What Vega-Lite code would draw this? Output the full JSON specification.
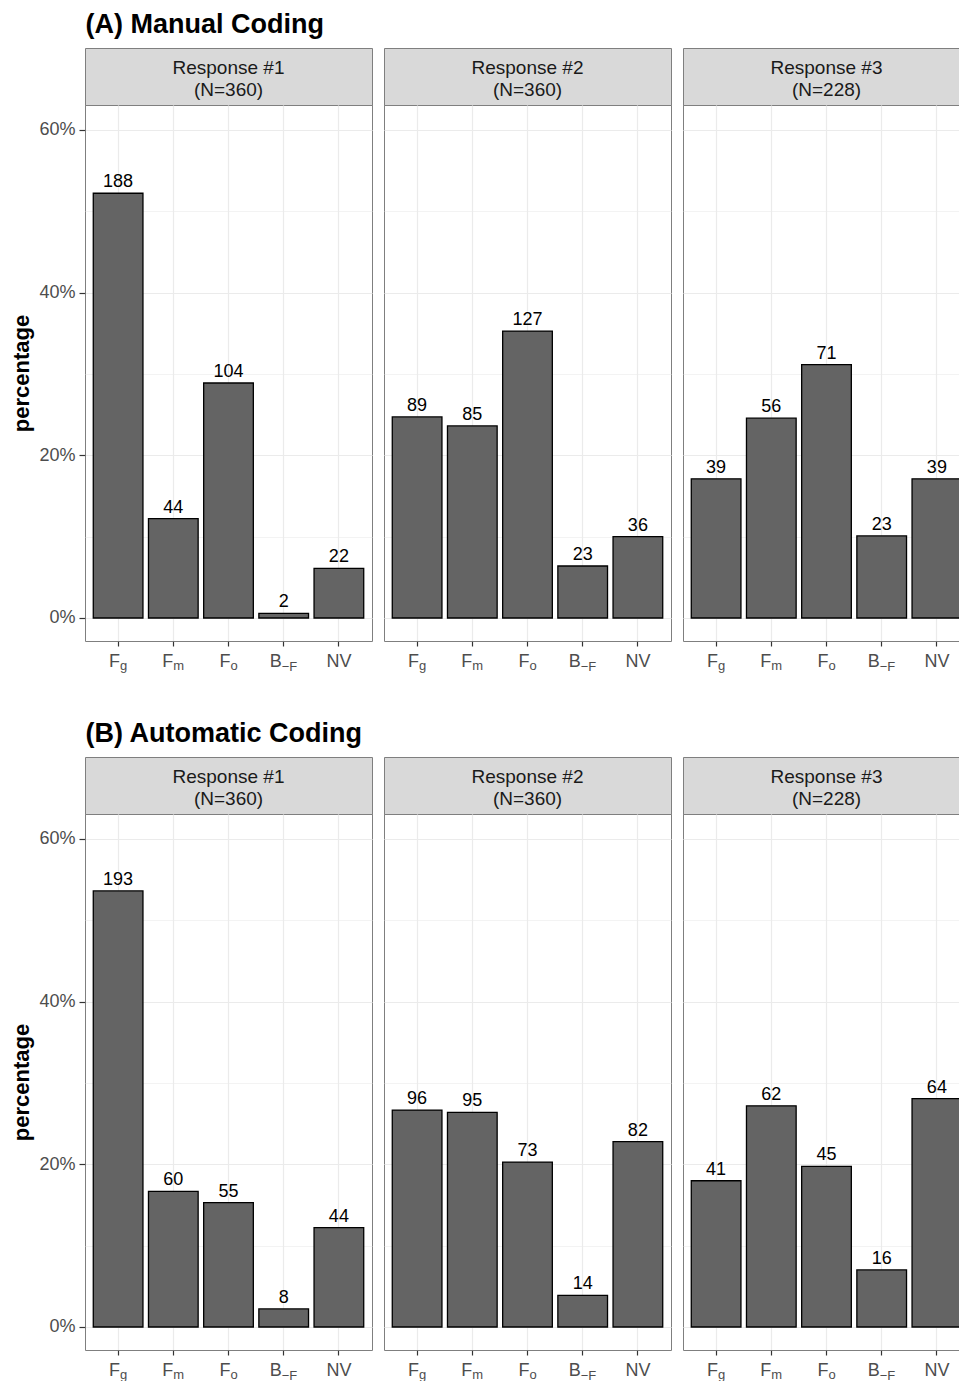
{
  "$schema": "https://vega.github.io/schema/vega-lite/v6.json",
  "padding": {"left": 10, "top": 10, "right": 0, "bottom": 0},
  "background": "white",
  "datasets": {
    "bars": [
      {"section": "A", "resp": 1, "cat": "Fg", "n": 188, "pct": 0.5222},
      {"section": "A", "resp": 1, "cat": "Fm", "n": 44, "pct": 0.1222},
      {"section": "A", "resp": 1, "cat": "Fo", "n": 104, "pct": 0.2889},
      {"section": "A", "resp": 1, "cat": "BF", "n": 2, "pct": 0.0056},
      {"section": "A", "resp": 1, "cat": "NV", "n": 22, "pct": 0.0611},
      {"section": "A", "resp": 2, "cat": "Fg", "n": 89, "pct": 0.2472},
      {"section": "A", "resp": 2, "cat": "Fm", "n": 85, "pct": 0.2361},
      {"section": "A", "resp": 2, "cat": "Fo", "n": 127, "pct": 0.3528},
      {"section": "A", "resp": 2, "cat": "BF", "n": 23, "pct": 0.0639},
      {"section": "A", "resp": 2, "cat": "NV", "n": 36, "pct": 0.1},
      {"section": "A", "resp": 3, "cat": "Fg", "n": 39, "pct": 0.1711},
      {"section": "A", "resp": 3, "cat": "Fm", "n": 56, "pct": 0.2456},
      {"section": "A", "resp": 3, "cat": "Fo", "n": 71, "pct": 0.3114},
      {"section": "A", "resp": 3, "cat": "BF", "n": 23, "pct": 0.1009},
      {"section": "A", "resp": 3, "cat": "NV", "n": 39, "pct": 0.1711},
      {"section": "B", "resp": 1, "cat": "Fg", "n": 193, "pct": 0.5361},
      {"section": "B", "resp": 1, "cat": "Fm", "n": 60, "pct": 0.1667},
      {"section": "B", "resp": 1, "cat": "Fo", "n": 55, "pct": 0.1528},
      {"section": "B", "resp": 1, "cat": "BF", "n": 8, "pct": 0.0222},
      {"section": "B", "resp": 1, "cat": "NV", "n": 44, "pct": 0.1222},
      {"section": "B", "resp": 2, "cat": "Fg", "n": 96, "pct": 0.2667},
      {"section": "B", "resp": 2, "cat": "Fm", "n": 95, "pct": 0.2639},
      {"section": "B", "resp": 2, "cat": "Fo", "n": 73, "pct": 0.2028},
      {"section": "B", "resp": 2, "cat": "BF", "n": 14, "pct": 0.0389},
      {"section": "B", "resp": 2, "cat": "NV", "n": 82, "pct": 0.2278},
      {"section": "B", "resp": 3, "cat": "Fg", "n": 41, "pct": 0.1798},
      {"section": "B", "resp": 3, "cat": "Fm", "n": 62, "pct": 0.2719},
      {"section": "B", "resp": 3, "cat": "Fo", "n": 45, "pct": 0.1974},
      {"section": "B", "resp": 3, "cat": "BF", "n": 16, "pct": 0.0702},
      {"section": "B", "resp": 3, "cat": "NV", "n": 64, "pct": 0.2807}
    ],
    "strips": [
      {"section": "A", "resp": 1, "label": "Response #1\n(N=360)"},
      {"section": "A", "resp": 2, "label": "Response #2\n(N=360)"},
      {"section": "A", "resp": 3, "label": "Response #3\n(N=228)"},
      {"section": "B", "resp": 1, "label": "Response #1\n(N=360)"},
      {"section": "B", "resp": 2, "label": "Response #2\n(N=360)"},
      {"section": "B", "resp": 3, "label": "Response #3\n(N=228)"}
    ]
  },
  "spacing": 45,
  "vconcat": [
    {
      "title": {"text": "(A) Manual Coding", "anchor": "start", "fontSize": 27, "fontWeight": "bold", "color": "black", "font": "Liberation Sans", "dx": 75, "offset": 9},
      "spacing": 10,
      "hconcat": [
        {
          "bounds": "flush", "spacing": 0,
          "vconcat": [
            {"width": 287, "height": 57, "data": {"name": "strips"}, "transform": [{"filter": "datum.section=='A' && datum.resp==1"}], "view": {"fill": "#d9d9d9", "stroke": "#7f7f7f"}, "mark": {"type": "text", "fontSize": 19, "color": "#1a1a1a", "lineBreak": "\n", "lineHeight": 22, "baseline": "middle", "align": "center", "dy": -9}, "encoding": {"text": {"field": "label"}}},
            {
              "width": 287, "height": 536, "data": {"name": "bars"}, "view": {"stroke": "#7f7f7f"},
              "transform": [{"filter": "datum.section=='A' && datum.resp==1"}],
              "encoding": {
                "x": {"field": "cat", "type": "nominal", "scale": {"domain": ["Fg", "Fm", "Fo", "BF", "NV"], "paddingInner": 0.1, "paddingOuter": 0.15}, "axis": {"orient": "bottom", "title": null, "labelExpr": "datum.value=='BF' ? 'B' : datum.value=='NV' ? 'NV' : 'F'", "labelFontSize": 18, "labelColor": "#4d4d4d", "labelAngle": 0, "labelBaseline": "alphabetic", "labelPadding": 20, "labelAlign": {"condition": {"test": "datum.value=='NV'", "value": "center"}, "value": "right"}, "labelOffset": {"condition": [{"test": "datum.value=='BF'", "value": -2}, {"test": "datum.value=='Fm'", "value": 0}, {"test": "datum.value=='NV'", "value": 0}], "value": 2}, "labelOverlap": false, "labelBound": false, "tickSize": 5, "tickColor": "#333333", "tickWidth": 1.2, "grid": true, "gridColor": "#ebebeb", "gridWidth": 1.2, "domain": false}},
                "y": {"field": "pct", "type": "quantitative", "scale": {"domain": [-0.0283, 0.6307], "nice": false}, "axis": {"values": [0, 0.1, 0.2, 0.3, 0.4, 0.5, 0.6], "title": "percentage", "titleFontSize": 22, "titleFontWeight": "bold", "titleColor": "black", "titlePadding": 5, "labelExpr": "round(datum.value*10)%2==1 ? '' : format(datum.value, '.0%')", "labelFontSize": 18, "labelColor": "#4d4d4d", "labelPadding": 4, "tickSize": 6, "tickColor": "#333333", "tickWidth": 1.2, "tickOpacity": {"condition": {"test": "round(datum.value*10)%2==1", "value": 0}, "value": 1}, "grid": true, "gridColor": "#ebebeb", "gridWidth": {"condition": {"test": "round(datum.value*10)%2==1", "value": 0.6}, "value": 1.2}, "domain": false}}
              },
              "layer": [
                {"mark": {"type": "bar", "fill": "#646464", "stroke": "black", "strokeWidth": 1.3}, "encoding": {"y2": {"datum": 0}}},
                {"mark": {"type": "text", "dy": -6, "fontSize": 18, "color": "black", "baseline": "alphabetic"}, "encoding": {"text": {"field": "n", "type": "quantitative"}, "x": {"field": "cat", "type": "nominal", "scale": {"domain": ["Fg", "Fm", "Fo", "BF", "NV"], "paddingInner": 0.1, "paddingOuter": 0.15}, "axis": {"orient": "bottom", "title": null, "labelExpr": "datum.value=='Fg' ? 'g' : datum.value=='Fm' ? 'm' : datum.value=='Fo' ? 'o' : datum.value=='BF' ? '−F' : ''", "labelFontSize": 13, "labelColor": "#4d4d4d", "labelAngle": 0, "labelBaseline": "alphabetic", "labelPadding": {"condition": {"test": "datum.value=='BF'", "value": 24}, "value": 23}, "labelAlign": "left", "labelOffset": {"condition": [{"test": "datum.value=='BF'", "value": -2}, {"test": "datum.value=='Fm'", "value": 0}, {"test": "datum.value=='NV'", "value": 0}], "value": 2}, "labelOverlap": false, "labelBound": false, "tickSize": 5, "tickOpacity": 0, "grid": false, "domain": false}}}}
              ],
              "resolve": {"axis": {"x": "independent"}}
            }
          ]
        },
        {
          "bounds": "flush", "spacing": 0,
          "vconcat": [
            {"width": 287, "height": 57, "data": {"name": "strips"}, "transform": [{"filter": "datum.section=='A' && datum.resp==2"}], "view": {"fill": "#d9d9d9", "stroke": "#7f7f7f"}, "mark": {"type": "text", "fontSize": 19, "color": "#1a1a1a", "lineBreak": "\n", "lineHeight": 22, "baseline": "middle", "align": "center", "dy": -9}, "encoding": {"text": {"field": "label"}}},
            {
              "width": 287, "height": 536, "data": {"name": "bars"}, "view": {"stroke": "#7f7f7f"},
              "transform": [{"filter": "datum.section=='A' && datum.resp==2"}],
              "encoding": {
                "x": {"field": "cat", "type": "nominal", "scale": {"domain": ["Fg", "Fm", "Fo", "BF", "NV"], "paddingInner": 0.1, "paddingOuter": 0.15}, "axis": {"orient": "bottom", "title": null, "labelExpr": "datum.value=='BF' ? 'B' : datum.value=='NV' ? 'NV' : 'F'", "labelFontSize": 18, "labelColor": "#4d4d4d", "labelAngle": 0, "labelBaseline": "alphabetic", "labelPadding": 20, "labelAlign": {"condition": {"test": "datum.value=='NV'", "value": "center"}, "value": "right"}, "labelOffset": {"condition": [{"test": "datum.value=='BF'", "value": -2}, {"test": "datum.value=='Fm'", "value": 0}, {"test": "datum.value=='NV'", "value": 0}], "value": 2}, "labelOverlap": false, "labelBound": false, "tickSize": 5, "tickColor": "#333333", "tickWidth": 1.2, "grid": true, "gridColor": "#ebebeb", "gridWidth": 1.2, "domain": false}},
                "y": {"field": "pct", "type": "quantitative", "scale": {"domain": [-0.0283, 0.6307], "nice": false}, "axis": {"values": [0, 0.1, 0.2, 0.3, 0.4, 0.5, 0.6], "title": null, "labels": false, "ticks": false, "grid": true, "gridColor": "#ebebeb", "gridWidth": {"condition": {"test": "round(datum.value*10)%2==1", "value": 0.6}, "value": 1.2}, "domain": false}}
              },
              "layer": [
                {"mark": {"type": "bar", "fill": "#646464", "stroke": "black", "strokeWidth": 1.3}, "encoding": {"y2": {"datum": 0}}},
                {"mark": {"type": "text", "dy": -6, "fontSize": 18, "color": "black", "baseline": "alphabetic"}, "encoding": {"text": {"field": "n", "type": "quantitative"}, "x": {"field": "cat", "type": "nominal", "scale": {"domain": ["Fg", "Fm", "Fo", "BF", "NV"], "paddingInner": 0.1, "paddingOuter": 0.15}, "axis": {"orient": "bottom", "title": null, "labelExpr": "datum.value=='Fg' ? 'g' : datum.value=='Fm' ? 'm' : datum.value=='Fo' ? 'o' : datum.value=='BF' ? '−F' : ''", "labelFontSize": 13, "labelColor": "#4d4d4d", "labelAngle": 0, "labelBaseline": "alphabetic", "labelPadding": {"condition": {"test": "datum.value=='BF'", "value": 24}, "value": 23}, "labelAlign": "left", "labelOffset": {"condition": [{"test": "datum.value=='BF'", "value": -2}, {"test": "datum.value=='Fm'", "value": 0}, {"test": "datum.value=='NV'", "value": 0}], "value": 2}, "labelOverlap": false, "labelBound": false, "tickSize": 5, "tickOpacity": 0, "grid": false, "domain": false}}}}
              ],
              "resolve": {"axis": {"x": "independent"}}
            }
          ]
        },
        {
          "bounds": "flush", "spacing": 0,
          "vconcat": [
            {"width": 287, "height": 57, "data": {"name": "strips"}, "transform": [{"filter": "datum.section=='A' && datum.resp==3"}], "view": {"fill": "#d9d9d9", "stroke": "#7f7f7f"}, "mark": {"type": "text", "fontSize": 19, "color": "#1a1a1a", "lineBreak": "\n", "lineHeight": 22, "baseline": "middle", "align": "center", "dy": -9}, "encoding": {"text": {"field": "label"}}},
            {
              "width": 287, "height": 536, "data": {"name": "bars"}, "view": {"stroke": "#7f7f7f"},
              "transform": [{"filter": "datum.section=='A' && datum.resp==3"}],
              "encoding": {
                "x": {"field": "cat", "type": "nominal", "scale": {"domain": ["Fg", "Fm", "Fo", "BF", "NV"], "paddingInner": 0.1, "paddingOuter": 0.15}, "axis": {"orient": "bottom", "title": null, "labelExpr": "datum.value=='BF' ? 'B' : datum.value=='NV' ? 'NV' : 'F'", "labelFontSize": 18, "labelColor": "#4d4d4d", "labelAngle": 0, "labelBaseline": "alphabetic", "labelPadding": 20, "labelAlign": {"condition": {"test": "datum.value=='NV'", "value": "center"}, "value": "right"}, "labelOffset": {"condition": [{"test": "datum.value=='BF'", "value": -2}, {"test": "datum.value=='Fm'", "value": 0}, {"test": "datum.value=='NV'", "value": 0}], "value": 2}, "labelOverlap": false, "labelBound": false, "tickSize": 5, "tickColor": "#333333", "tickWidth": 1.2, "grid": true, "gridColor": "#ebebeb", "gridWidth": 1.2, "domain": false}},
                "y": {"field": "pct", "type": "quantitative", "scale": {"domain": [-0.0283, 0.6307], "nice": false}, "axis": {"values": [0, 0.1, 0.2, 0.3, 0.4, 0.5, 0.6], "title": null, "labels": false, "ticks": false, "grid": true, "gridColor": "#ebebeb", "gridWidth": {"condition": {"test": "round(datum.value*10)%2==1", "value": 0.6}, "value": 1.2}, "domain": false}}
              },
              "layer": [
                {"mark": {"type": "bar", "fill": "#646464", "stroke": "black", "strokeWidth": 1.3}, "encoding": {"y2": {"datum": 0}}},
                {"mark": {"type": "text", "dy": -6, "fontSize": 18, "color": "black", "baseline": "alphabetic"}, "encoding": {"text": {"field": "n", "type": "quantitative"}, "x": {"field": "cat", "type": "nominal", "scale": {"domain": ["Fg", "Fm", "Fo", "BF", "NV"], "paddingInner": 0.1, "paddingOuter": 0.15}, "axis": {"orient": "bottom", "title": null, "labelExpr": "datum.value=='Fg' ? 'g' : datum.value=='Fm' ? 'm' : datum.value=='Fo' ? 'o' : datum.value=='BF' ? '−F' : ''", "labelFontSize": 13, "labelColor": "#4d4d4d", "labelAngle": 0, "labelBaseline": "alphabetic", "labelPadding": {"condition": {"test": "datum.value=='BF'", "value": 24}, "value": 23}, "labelAlign": "left", "labelOffset": {"condition": [{"test": "datum.value=='BF'", "value": -2}, {"test": "datum.value=='Fm'", "value": 0}, {"test": "datum.value=='NV'", "value": 0}], "value": 2}, "labelOverlap": false, "labelBound": false, "tickSize": 5, "tickOpacity": 0, "grid": false, "domain": false}}}}
              ],
              "resolve": {"axis": {"x": "independent"}}
            }
          ]
        }
      ]
    },
    {
      "title": {"text": "(B) Automatic Coding", "anchor": "start", "fontSize": 27, "fontWeight": "bold", "color": "black", "font": "Liberation Sans", "dx": 75, "offset": 9},
      "spacing": 10,
      "hconcat": [
        {
          "bounds": "flush", "spacing": 0,
          "vconcat": [
            {"width": 287, "height": 57, "data": {"name": "strips"}, "transform": [{"filter": "datum.section=='B' && datum.resp==1"}], "view": {"fill": "#d9d9d9", "stroke": "#7f7f7f"}, "mark": {"type": "text", "fontSize": 19, "color": "#1a1a1a", "lineBreak": "\n", "lineHeight": 22, "baseline": "middle", "align": "center", "dy": -9}, "encoding": {"text": {"field": "label"}}},
            {
              "width": 287, "height": 536, "data": {"name": "bars"}, "view": {"stroke": "#7f7f7f"},
              "transform": [{"filter": "datum.section=='B' && datum.resp==1"}],
              "encoding": {
                "x": {"field": "cat", "type": "nominal", "scale": {"domain": ["Fg", "Fm", "Fo", "BF", "NV"], "paddingInner": 0.1, "paddingOuter": 0.15}, "axis": {"orient": "bottom", "title": null, "labelExpr": "datum.value=='BF' ? 'B' : datum.value=='NV' ? 'NV' : 'F'", "labelFontSize": 18, "labelColor": "#4d4d4d", "labelAngle": 0, "labelBaseline": "alphabetic", "labelPadding": 20, "labelAlign": {"condition": {"test": "datum.value=='NV'", "value": "center"}, "value": "right"}, "labelOffset": {"condition": [{"test": "datum.value=='BF'", "value": -2}, {"test": "datum.value=='Fm'", "value": 0}, {"test": "datum.value=='NV'", "value": 0}], "value": 2}, "labelOverlap": false, "labelBound": false, "tickSize": 5, "tickColor": "#333333", "tickWidth": 1.2, "grid": true, "gridColor": "#ebebeb", "gridWidth": 1.2, "domain": false}},
                "y": {"field": "pct", "type": "quantitative", "scale": {"domain": [-0.0283, 0.6307], "nice": false}, "axis": {"values": [0, 0.1, 0.2, 0.3, 0.4, 0.5, 0.6], "title": "percentage", "titleFontSize": 22, "titleFontWeight": "bold", "titleColor": "black", "titlePadding": 5, "labelExpr": "round(datum.value*10)%2==1 ? '' : format(datum.value, '.0%')", "labelFontSize": 18, "labelColor": "#4d4d4d", "labelPadding": 4, "tickSize": 6, "tickColor": "#333333", "tickWidth": 1.2, "tickOpacity": {"condition": {"test": "round(datum.value*10)%2==1", "value": 0}, "value": 1}, "grid": true, "gridColor": "#ebebeb", "gridWidth": {"condition": {"test": "round(datum.value*10)%2==1", "value": 0.6}, "value": 1.2}, "domain": false}}
              },
              "layer": [
                {"mark": {"type": "bar", "fill": "#646464", "stroke": "black", "strokeWidth": 1.3}, "encoding": {"y2": {"datum": 0}}},
                {"mark": {"type": "text", "dy": -6, "fontSize": 18, "color": "black", "baseline": "alphabetic"}, "encoding": {"text": {"field": "n", "type": "quantitative"}, "x": {"field": "cat", "type": "nominal", "scale": {"domain": ["Fg", "Fm", "Fo", "BF", "NV"], "paddingInner": 0.1, "paddingOuter": 0.15}, "axis": {"orient": "bottom", "title": null, "labelExpr": "datum.value=='Fg' ? 'g' : datum.value=='Fm' ? 'm' : datum.value=='Fo' ? 'o' : datum.value=='BF' ? '−F' : ''", "labelFontSize": 13, "labelColor": "#4d4d4d", "labelAngle": 0, "labelBaseline": "alphabetic", "labelPadding": {"condition": {"test": "datum.value=='BF'", "value": 24}, "value": 23}, "labelAlign": "left", "labelOffset": {"condition": [{"test": "datum.value=='BF'", "value": -2}, {"test": "datum.value=='Fm'", "value": 0}, {"test": "datum.value=='NV'", "value": 0}], "value": 2}, "labelOverlap": false, "labelBound": false, "tickSize": 5, "tickOpacity": 0, "grid": false, "domain": false}}}}
              ],
              "resolve": {"axis": {"x": "independent"}}
            }
          ]
        },
        {
          "bounds": "flush", "spacing": 0,
          "vconcat": [
            {"width": 287, "height": 57, "data": {"name": "strips"}, "transform": [{"filter": "datum.section=='B' && datum.resp==2"}], "view": {"fill": "#d9d9d9", "stroke": "#7f7f7f"}, "mark": {"type": "text", "fontSize": 19, "color": "#1a1a1a", "lineBreak": "\n", "lineHeight": 22, "baseline": "middle", "align": "center", "dy": -9}, "encoding": {"text": {"field": "label"}}},
            {
              "width": 287, "height": 536, "data": {"name": "bars"}, "view": {"stroke": "#7f7f7f"},
              "transform": [{"filter": "datum.section=='B' && datum.resp==2"}],
              "encoding": {
                "x": {"field": "cat", "type": "nominal", "scale": {"domain": ["Fg", "Fm", "Fo", "BF", "NV"], "paddingInner": 0.1, "paddingOuter": 0.15}, "axis": {"orient": "bottom", "title": null, "labelExpr": "datum.value=='BF' ? 'B' : datum.value=='NV' ? 'NV' : 'F'", "labelFontSize": 18, "labelColor": "#4d4d4d", "labelAngle": 0, "labelBaseline": "alphabetic", "labelPadding": 20, "labelAlign": {"condition": {"test": "datum.value=='NV'", "value": "center"}, "value": "right"}, "labelOffset": {"condition": [{"test": "datum.value=='BF'", "value": -2}, {"test": "datum.value=='Fm'", "value": 0}, {"test": "datum.value=='NV'", "value": 0}], "value": 2}, "labelOverlap": false, "labelBound": false, "tickSize": 5, "tickColor": "#333333", "tickWidth": 1.2, "grid": true, "gridColor": "#ebebeb", "gridWidth": 1.2, "domain": false}},
                "y": {"field": "pct", "type": "quantitative", "scale": {"domain": [-0.0283, 0.6307], "nice": false}, "axis": {"values": [0, 0.1, 0.2, 0.3, 0.4, 0.5, 0.6], "title": null, "labels": false, "ticks": false, "grid": true, "gridColor": "#ebebeb", "gridWidth": {"condition": {"test": "round(datum.value*10)%2==1", "value": 0.6}, "value": 1.2}, "domain": false}}
              },
              "layer": [
                {"mark": {"type": "bar", "fill": "#646464", "stroke": "black", "strokeWidth": 1.3}, "encoding": {"y2": {"datum": 0}}},
                {"mark": {"type": "text", "dy": -6, "fontSize": 18, "color": "black", "baseline": "alphabetic"}, "encoding": {"text": {"field": "n", "type": "quantitative"}, "x": {"field": "cat", "type": "nominal", "scale": {"domain": ["Fg", "Fm", "Fo", "BF", "NV"], "paddingInner": 0.1, "paddingOuter": 0.15}, "axis": {"orient": "bottom", "title": null, "labelExpr": "datum.value=='Fg' ? 'g' : datum.value=='Fm' ? 'm' : datum.value=='Fo' ? 'o' : datum.value=='BF' ? '−F' : ''", "labelFontSize": 13, "labelColor": "#4d4d4d", "labelAngle": 0, "labelBaseline": "alphabetic", "labelPadding": {"condition": {"test": "datum.value=='BF'", "value": 24}, "value": 23}, "labelAlign": "left", "labelOffset": {"condition": [{"test": "datum.value=='BF'", "value": -2}, {"test": "datum.value=='Fm'", "value": 0}, {"test": "datum.value=='NV'", "value": 0}], "value": 2}, "labelOverlap": false, "labelBound": false, "tickSize": 5, "tickOpacity": 0, "grid": false, "domain": false}}}}
              ],
              "resolve": {"axis": {"x": "independent"}}
            }
          ]
        },
        {
          "bounds": "flush", "spacing": 0,
          "vconcat": [
            {"width": 287, "height": 57, "data": {"name": "strips"}, "transform": [{"filter": "datum.section=='B' && datum.resp==3"}], "view": {"fill": "#d9d9d9", "stroke": "#7f7f7f"}, "mark": {"type": "text", "fontSize": 19, "color": "#1a1a1a", "lineBreak": "\n", "lineHeight": 22, "baseline": "middle", "align": "center", "dy": -9}, "encoding": {"text": {"field": "label"}}},
            {
              "width": 287, "height": 536, "data": {"name": "bars"}, "view": {"stroke": "#7f7f7f"},
              "transform": [{"filter": "datum.section=='B' && datum.resp==3"}],
              "encoding": {
                "x": {"field": "cat", "type": "nominal", "scale": {"domain": ["Fg", "Fm", "Fo", "BF", "NV"], "paddingInner": 0.1, "paddingOuter": 0.15}, "axis": {"orient": "bottom", "title": null, "labelExpr": "datum.value=='BF' ? 'B' : datum.value=='NV' ? 'NV' : 'F'", "labelFontSize": 18, "labelColor": "#4d4d4d", "labelAngle": 0, "labelBaseline": "alphabetic", "labelPadding": 20, "labelAlign": {"condition": {"test": "datum.value=='NV'", "value": "center"}, "value": "right"}, "labelOffset": {"condition": [{"test": "datum.value=='BF'", "value": -2}, {"test": "datum.value=='Fm'", "value": 0}, {"test": "datum.value=='NV'", "value": 0}], "value": 2}, "labelOverlap": false, "labelBound": false, "tickSize": 5, "tickColor": "#333333", "tickWidth": 1.2, "grid": true, "gridColor": "#ebebeb", "gridWidth": 1.2, "domain": false}},
                "y": {"field": "pct", "type": "quantitative", "scale": {"domain": [-0.0283, 0.6307], "nice": false}, "axis": {"values": [0, 0.1, 0.2, 0.3, 0.4, 0.5, 0.6], "title": null, "labels": false, "ticks": false, "grid": true, "gridColor": "#ebebeb", "gridWidth": {"condition": {"test": "round(datum.value*10)%2==1", "value": 0.6}, "value": 1.2}, "domain": false}}
              },
              "layer": [
                {"mark": {"type": "bar", "fill": "#646464", "stroke": "black", "strokeWidth": 1.3}, "encoding": {"y2": {"datum": 0}}},
                {"mark": {"type": "text", "dy": -6, "fontSize": 18, "color": "black", "baseline": "alphabetic"}, "encoding": {"text": {"field": "n", "type": "quantitative"}, "x": {"field": "cat", "type": "nominal", "scale": {"domain": ["Fg", "Fm", "Fo", "BF", "NV"], "paddingInner": 0.1, "paddingOuter": 0.15}, "axis": {"orient": "bottom", "title": null, "labelExpr": "datum.value=='Fg' ? 'g' : datum.value=='Fm' ? 'm' : datum.value=='Fo' ? 'o' : datum.value=='BF' ? '−F' : ''", "labelFontSize": 13, "labelColor": "#4d4d4d", "labelAngle": 0, "labelBaseline": "alphabetic", "labelPadding": {"condition": {"test": "datum.value=='BF'", "value": 24}, "value": 23}, "labelAlign": "left", "labelOffset": {"condition": [{"test": "datum.value=='BF'", "value": -2}, {"test": "datum.value=='Fm'", "value": 0}, {"test": "datum.value=='NV'", "value": 0}], "value": 2}, "labelOverlap": false, "labelBound": false, "tickSize": 5, "tickOpacity": 0, "grid": false, "domain": false}}}}
              ],
              "resolve": {"axis": {"x": "independent"}}
            }
          ]
        }
      ]
    }
  ],
  "config": {
    "font": "Liberation Sans",
    "view": {"stroke": "#7f7f7f"},
    "axis": {"labelFont": "Liberation Sans", "titleFont": "Liberation Sans"},
    "text": {"font": "Liberation Sans"}
  }
}
